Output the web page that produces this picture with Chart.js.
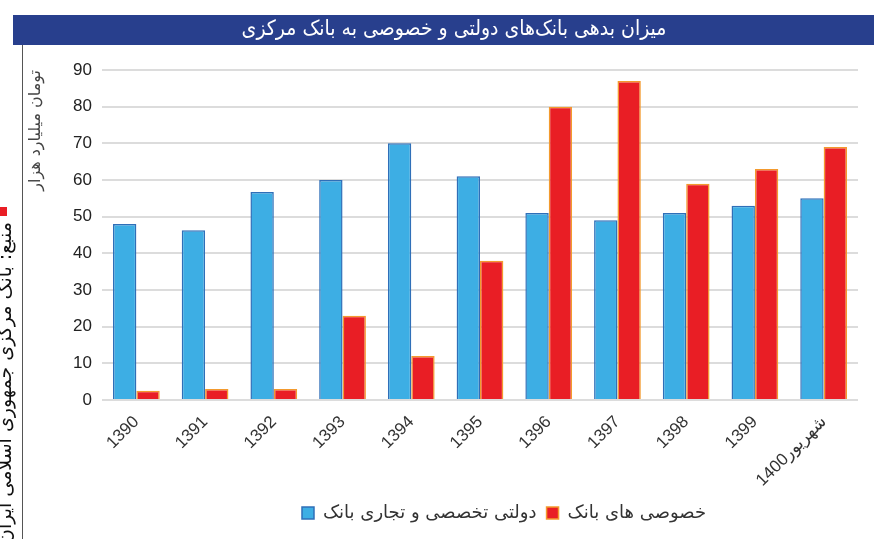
<!DOCTYPE html>
<html>
<head>
<meta charset="utf-8">
<script src="https://cdn.jsdelivr.net/npm/chart.js@4"></script>
<style>
  body { margin: 0; background: #fff; }
  canvas { display: block; }
</style>
</head>
<body>
<canvas id="debt" width="874" height="539"></canvas>
<script>
// Central bank debt of state and private banks (thousand billion toman)

const years = ['1390', '1391', '1392', '1393', '1394', '1395', '1396', '1397', '1398', '1399', '1400شهریور'];
const stateBanks = [48, 46.3, 56.7, 60, 70, 61, 51, 49, 51, 53, 55];
const privateBanks = [2.5, 3, 3, 23, 12, 38, 80, 87, 59, 63, 69];

const titleText = 'میزان بدهی بانک‌های دولتی و خصوصی به بانک مرکزی';
const sourceText = 'منبع: بانک مرکزی جمهوری اسلامی ایران';
const unitText = 'تومان میلیارد هزار';
const stateLabel = 'دولتی تخصصی و تجاری بانک';
const privateLabel = 'خصوصی های بانک';

const persianFont = '"DejaVu Sans", sans-serif';

// title bar, frame line and rotated source note
const framePlugin = {
    id: 'frame',
    afterLayout(chart) {
        // legend sits a bit right of centre in the original
        chart.legend.left += 24;
        chart.legend.right += 24;
    },
    afterDraw(chart) {
        const c = chart.ctx;
        c.save();
        c.fillStyle = '#283f8d';
        c.fillRect(13, 15, 861, 30);
        c.fillStyle = '#fff';
        c.font = '21px "DejaVu Sans Condensed", "DejaVu Sans", sans-serif';
        c.textAlign = 'center';
        c.textBaseline = 'middle';
        c.fillText(titleText, 454, 30);

        c.strokeStyle = '#555';
        c.lineWidth = 1;
        c.beginPath();
        c.moveTo(22.5, 45);
        c.lineTo(22.5, 539);
        c.stroke();

        c.fillStyle = '#e91e25';
        c.fillRect(0, 207, 7, 9);

        c.fillStyle = '#111';
        c.font = '19px ' + persianFont;
        c.translate(6, 222);
        c.rotate(-Math.PI / 2);
        c.textAlign = 'right';
        c.textBaseline = 'middle';
        c.fillText(sourceText, 0, 0);
        c.restore();
    }
};

new Chart(document.getElementById('debt'), {
    type: 'bar',
    data: {
        labels: years,
        datasets: [
            {
                label: stateLabel,
                data: stateBanks,
                backgroundColor: '#3daee4',
                borderColor: '#2f6fb8',
                borderWidth: 1.5,
                categoryPercentage: 0.68,
                barPercentage: 1.0
            },
            {
                label: privateLabel,
                data: privateBanks,
                backgroundColor: '#e91e25',
                borderColor: '#f39a2e',
                borderWidth: 1.5,
                categoryPercentage: 0.68,
                barPercentage: 1.0
            }
        ]
    },
    options: {
        responsive: false,
        animation: false,
        layout: {
            padding: { top: 70, left: 22, right: 16, bottom: 7 }
        },
        plugins: {
            legend: {
                position: 'bottom',
                fullSize: false,
                labels: {
                    boxWidth: 12,
                    boxHeight: 12,
                    padding: 10,
                    color: '#333',
                    font: { family: persianFont, size: 18 }
                }
            },
            tooltip: { enabled: false }
        },
        scales: {
            x: {
                grid: { display: false },
                border: { display: false },
                ticks: {
                    minRotation: 45,
                    maxRotation: 45,
                    color: '#333',
                    padding: 4,
                    font: { family: '"Liberation Sans", "DejaVu Sans", sans-serif', size: 17 }
                },
                afterFit(axis) { axis.height = 94; }
            },
            y: {
                min: 0,
                max: 90,
                border: { display: false },
                grid: { color: '#dcdcdc', lineWidth: 2, drawTicks: false },
                ticks: {
                    stepSize: 10,
                    padding: 10,
                    color: '#222',
                    font: { family: '"Liberation Sans", sans-serif', size: 17 }
                },
                title: {
                    display: true,
                    text: unitText,
                    align: 'end',
                    color: '#444',
                    font: { family: persianFont, size: 16 }
                },
                afterFit(axis) { axis.width = 80; }
            }
        }
    },
    plugins: [framePlugin]
});
</script>
</body>
</html>
